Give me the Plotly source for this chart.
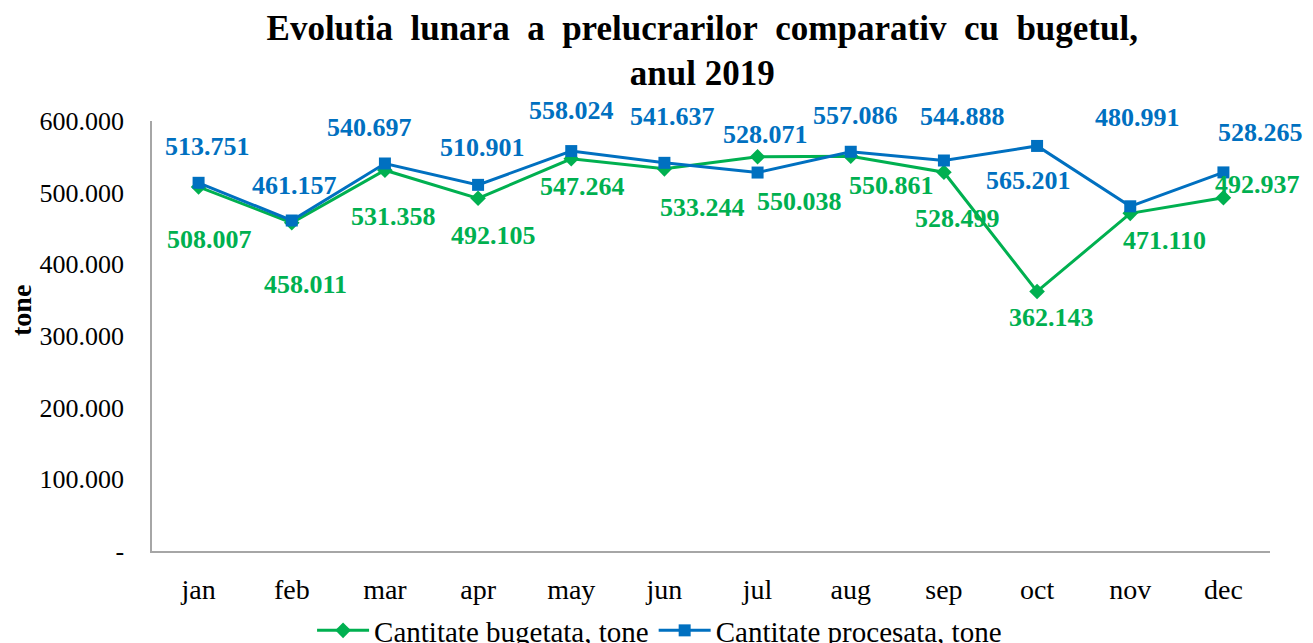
import plotly.graph_objects as go

months = ["jan", "feb", "mar", "apr", "may", "jun", "jul", "aug", "sep", "oct", "nov", "dec"]
bugetata = [508007, 458011, 531358, 492105, 547264, 533244, 550038, 550861, 528499, 362143, 471110, 492937]
procesata = [513751, 461157, 540697, 510901, 558024, 541637, 528071, 557086, 544888, 565201, 480991, 528265]
y_ticks = [0, 100000, 200000, 300000, 400000, 500000, 600000]
y_ticktext = ["-", "100.000", "200.000", "300.000", "400.000", "500.000", "600.000"]

GREEN = "#00B050"
BLUE = "#0070C0"
FONT = "Liberation Serif"

# label offsets in px (x, y up) copied from the hand placed labels of the original
green_shift = [(11, -53), (14, -62), (9, -46), (15, -37), (11, -28), (38, -39),
               (42, -45), (41, -29), (14, -46), (14, -26), (34, -27), (34, 13)]
blue_shift = [(9, 36), (3, 35), (-15, 36), (4, 37), (0, 41), (8, 46),
              (8, 38), (5, 36), (19, 44), (-9, -35), (7, 89), (37, 40)]


def fmt(v):
    return f"{v:,}".replace(",", ".")


# wider word gaps, like the justified title of the original
title_text = "\u00a0 ".join("Evolutia lunara a prelucrarilor comparativ cu bugetul,".split(" "))

fig = go.Figure()
fig.add_trace(go.Scatter(
    x=months, y=bugetata, mode="lines+markers", name="Cantitate bugetata, tone",
    line=dict(color=GREEN, width=3),
    marker=dict(symbol="diamond", size=12, color=GREEN)))
fig.add_trace(go.Scatter(
    x=months, y=procesata, mode="lines+markers", name="Cantitate procesata, tone",
    line=dict(color=BLUE, width=3),
    marker=dict(symbol="square", size=12, color=BLUE)))

annotations = []
for series, shifts, color in [(bugetata, green_shift, GREEN), (procesata, blue_shift, BLUE)]:
    for m, v, (dx, dy) in zip(months, series, shifts):
        annotations.append(dict(
            x=m, y=v, xref="x", yref="y", text=fmt(v), showarrow=False,
            xshift=dx, yshift=dy,
            font=dict(family=FONT, size=26, color=color, weight="bold")))

# y axis title sits a bit above the middle in the original
annotations.append(dict(
    text="<b>tone</b>", x=-0.1163, y=0.5605, xref="paper", yref="paper",
    xanchor="center", yanchor="middle", textangle=-90, showarrow=False,
    font=dict(family=FONT, size=28, color="black")))

fig.update_layout(
    width=1305, height=635,
    margin=dict(l=144, r=43, t=113, b=92, autoexpand=False),
    plot_bgcolor="white", paper_bgcolor="white",
    font=dict(family=FONT, size=26, color="black"),
    title=dict(text="<b>" + title_text + "<br>anul 2019</b>",
               x=0.532, xanchor="center", xref="container",
               y=0.95, yanchor="top", yref="container",
               font=dict(family=FONT, size=35, color="black")),
    annotations=annotations,
    showlegend=True,
    legend=dict(orientation="h", x=0.454, xanchor="center",
                y=-0.1256, yanchor="top", font=dict(family=FONT, size=29),
                itemwidth=52),
    xaxis=dict(range=[-0.5, 11.5], showline=True, linecolor="#A6A6A6", linewidth=1.5,
               showgrid=False, ticks="", ticklabelstandoff=13, automargin=False,
               tickfont=dict(family=FONT, size=28)),
    yaxis=dict(range=[0, 600000], tickvals=y_ticks, ticktext=y_ticktext,
               showline=True, linecolor="#A6A6A6", linewidth=1.5, showgrid=False,
               zeroline=False, ticks="", ticklabelstandoff=21, automargin=False),
)

fig.write_html("out.html")
